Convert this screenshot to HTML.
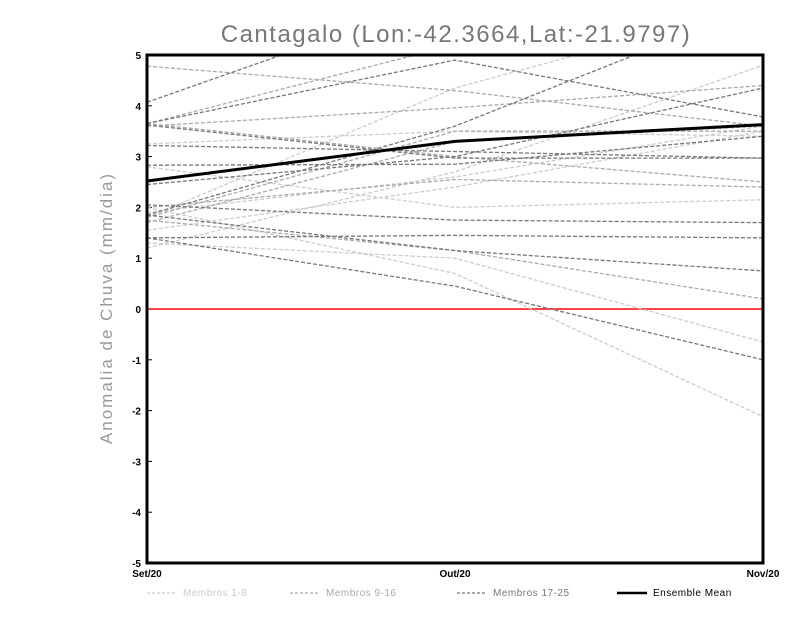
<!DOCTYPE html>
<html><head><meta charset="utf-8"><style>
body{margin:0;background:#fff;width:800px;height:618px;overflow:hidden;font-family:"Liberation Sans",sans-serif}
</style></head><body>
<svg id="chart" width="800" height="618" xmlns="http://www.w3.org/2000/svg">
<defs><clipPath id="plotclip"><rect x="147" y="55" width="616" height="508"/></clipPath></defs>
<text x="456" y="42" text-anchor="middle" font-size="24" fill="#777" font-family="Liberation Sans, sans-serif" letter-spacing="1.5">Cantagalo (Lon:-42.3664,Lat:-21.9797)</text>
<text transform="translate(112,308) rotate(-90)" text-anchor="middle" font-size="17" fill="#999" letter-spacing="2">Anomalia de Chuva (mm/dia)</text>
<g id="ticks"></g>
<g id="series" clip-path="url(#plotclip)"></g>
<rect x="147" y="55" width="616" height="508" fill="none" stroke="#000" stroke-width="3"/>
<g id="legend"></g>
</svg>
<script>
const categories=["Set/20","Out/20","Nov/20"];
const yTicks=[-5,-4,-3,-2,-1,0,1,2,3,4,5];
const light=[[1.2,2.7,4.8],[1.8,4.35,6],[3.25,3.5,3.4],[2.8,2.0,2.15],[1.55,2.4,3.5],[2.0,0.7,-2.12],[1.3,1.0,-0.65],[1.9,2.6,3.6]];
const mid=[[4.78,4.3,3.6],[3.65,5.2,6],[3.6,3.96,4.4],[1.8,3.5,3.5],[2.0,2.55,2.4],[1.75,1.15,0.2],[1.7,3.3,3.6],[3.65,3.0,2.5]];
const dark=[[4.07,6.2,8],[3.65,4.9,3.78],[3.62,2.97,2.97],[3.22,3.1,2.97],[2.83,2.85,3.4],[2.45,3.0,4.35],[1.85,3.6,6],[2.05,1.75,1.7],[1.4,1.45,1.4],[1.85,1.15,0.75],[1.4,0.45,-1.0]];
const ensembleMean=[2.52,3.3,3.63];
const legendLabels=["Membros 1-8","Membros 9-16","Membros 17-25","Ensemble Mean"];
const NS="http://www.w3.org/2000/svg";
const X0=147,X1=763,Y0=563,Y1=55;
function xs(i){return X0+(X1-X0)*i/(categories.length-1);}
function ys(v){return Y0-(v+5)/10*(Y0-Y1);}
function mk(tag,attrs,parent){const e=document.createElementNS(NS,tag);for(const k in attrs)e.setAttribute(k,attrs[k]);parent.appendChild(e);return e;}
const tg=document.getElementById('ticks');
yTicks.forEach(t=>{const l=mk('text',{x:X0-6,y:ys(t)+4,'text-anchor':'end','font-size':'10','font-weight':'bold',fill:'#000'},tg);l.textContent=t;


const m=mk('line',{x1:X0,x2:X0+5,y1:ys(t),y2:ys(t),stroke:'#000','stroke-width':1},tg);

});
categories.forEach((c,i)=>{const l=mk('text',{x:xs(i),y:577,'text-anchor':'middle','font-size':'10','font-weight':'bold',fill:'#000'},tg);l.textContent=c;

});
const sg=document.getElementById('series');
const z=mk('line',{x1:X0,x2:X1,y1:ys(0),y2:ys(0),stroke:'#f44',"stroke-width":2},sg);


function pts(a){return a.map((v,i)=>xs(i)+','+ys(v)).join(' ');}
[[light,'#cccccc','membros-1-8-line'],[mid,'#aaaaaa','membros-9-16-line'],[dark,'#777777','membros-17-25-line']].forEach(([set,col,name])=>{
set.forEach(a=>{const p=mk('polyline',{points:pts(a),fill:'none',stroke:col,'stroke-width':1.3,'stroke-dasharray':'4,2'},sg);

});});
const mp=mk('polyline',{points:pts(ensembleMean),fill:'none',stroke:'#000','stroke-width':3},sg);


const lg=document.getElementById('legend');
const lcols=['#cccccc','#aaaaaa','#777777','#000'];
const lx=[147,290,457,617];
legendLabels.forEach((t,i)=>{const ln=mk('line',{x1:lx[i],x2:lx[i]+30,y1:593,y2:593,stroke:lcols[i],'stroke-width':i==3?2.5:1.2,'stroke-dasharray':i==3?'none':'3,2'},lg);


const tx=mk('text',{x:lx[i]+36,y:596,'font-size':'10',fill:i==3?'#000':lcols[i],'letter-spacing':'0.5'},lg);tx.textContent=t;

});
</script>
</body></html>
